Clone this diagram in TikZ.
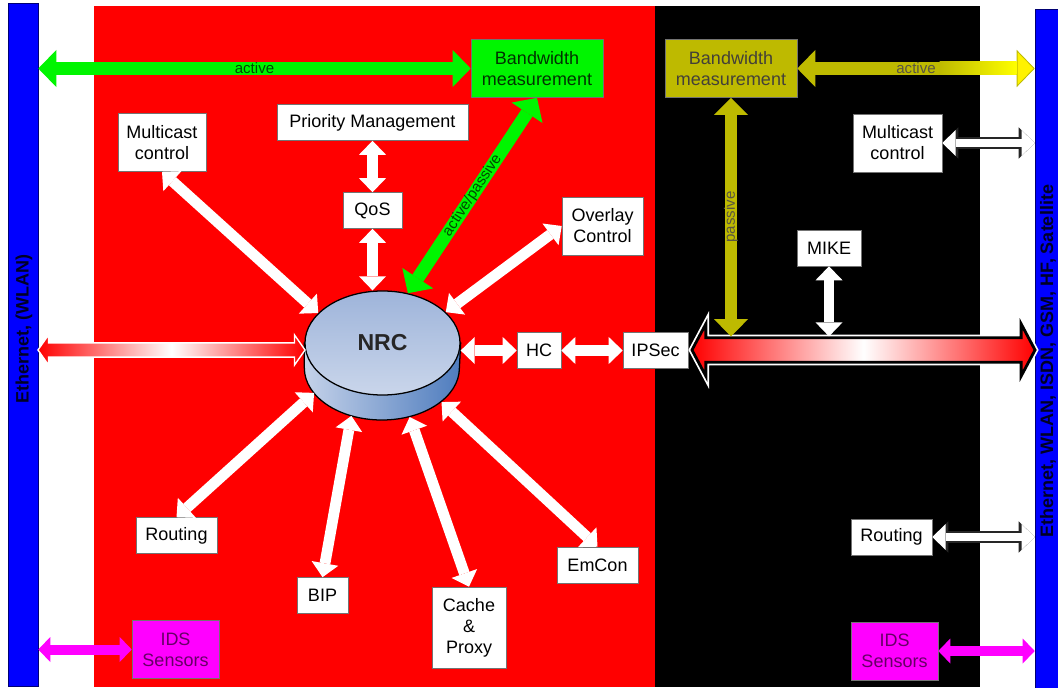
\documentclass[tikz,border=0pt]{standalone}
\usepackage{fontspec}
\setmainfont{Liberation Sans}
\usetikzlibrary{shapes.geometric, shapes.arrows, arrows.meta, calc, backgrounds}

\definecolor{panelred}{RGB}{255,0,0}
\definecolor{barblue}{RGB}{0,0,255}
\definecolor{bwgreen}{RGB}{0,245,0}
\definecolor{bwolive}{RGB}{190,186,0}
\definecolor{idsmagenta}{RGB}{255,0,255}
\definecolor{nrcface}{RGB}{158,180,218}
\definecolor{nrcside}{RGB}{78,124,190}

\begin{document}
\begin{tikzpicture}[
    x=0.025cm, y=-0.025cm,
    % Node styles
    box/.style={
        rectangle,
        draw=black!55,
        fill=white,
        minimum height=0.9cm,
        inner sep=2pt,
        font=\fontsize{12.8}{15}\selectfont,
        align=center
    },
    tall/.style={minimum height=1.45cm},
    greenbox/.style={box, tall, fill=bwgreen, text=green!20!black},
    olivebox/.style={box, tall, fill=bwolive, text=black!85!yellow},
    idsbox/.style={box, tall, fill=idsmagenta, text=idsmagenta!40!black},
    bar/.style={
        rectangle,
        draw=blue!45!black,
        fill=barblue,
        inner sep=0pt,
        minimum width=0.75cm
    },
    bartext/.style={
        rotate=90,
        font=\bfseries\fontsize{12.8}{15}\selectfont,
        text=black!85!blue
    },
    waylabel/.style={font=\fontsize{10.7}{12}\selectfont},
    pipe/.style={
        double arrow,
        double arrow head indent=0pt,
        left color=panelred,
        right color=panelred,
        middle color=white
    },
    % Connector styles
    whiteway/.style={
        draw=white, line width=0.27cm,
        {Triangle[width=0.675cm, length=0.35cm, line width=0pt]}-{Triangle[width=0.675cm, length=0.35cm, line width=0pt]}
    },
    edgeway/.style={
        draw=black!85, line width=0.28cm,
        {Triangle[width=0.78cm, length=0.4cm, line width=0pt]}-{Triangle[width=0.78cm, length=0.4cm, line width=0pt]}
    },
    openway/.style={
        draw=white, line width=0.19cm,
        {Triangle[width=0.64cm, length=0.33cm, line width=0pt]}-{Triangle[width=0.64cm, length=0.33cm, line width=0pt]}
    },
    greenway/.style={
        draw=bwgreen, line width=0.325cm,
        {Triangle[width=0.925cm, length=0.45cm, line width=0pt]}-{Triangle[width=0.925cm, length=0.45cm, line width=0pt]}
    },
    oliveway/.style={
        draw=bwolive, line width=0.3cm,
        {Triangle[width=0.85cm, length=0.43cm, line width=0pt]}-{Triangle[width=0.85cm, length=0.43cm, line width=0pt]}
    },
    sunway/.style={
        draw=bwolive, line width=0.325cm,
        {Triangle[width=0.925cm, length=0.45cm, line width=0pt]}-{Triangle[width=0.925cm, length=0.45cm, line width=0.6pt, fill=yellow]}
    },
    pinkway/.style={
        draw=idsmagenta, line width=0.25cm,
        {Triangle[width=0.625cm, length=0.3cm, line width=0pt]}-{Triangle[width=0.625cm, length=0.3cm, line width=0pt]}
    }
]
\useasboundingbox (0,0) rectangle (1058,688);

% === Panels ===
\begin{scope}[on background layer]
    \fill[white] (0,0) rectangle (1058,688);
    \fill[panelred] (94,6) rectangle (655,687);
    \fill[black] (655,6) rectangle (980,687);
\end{scope}

% === Network bars ===
\node[bar, minimum height=17.075cm] (lanbar) at (23,344.5) {};
\node[bar, minimum height=16.975cm] (wanbar) at (1050,348.5) {};
\node[bartext] (lanlabel) at (24,329) {Ethernet, (WLAN)};
\node[bartext] (wanlabel) at (1048,361) {Ethernet, WLAN, ISDN, GSM, HF, Satellite};

% === Red side ===
\node[greenbox, minimum width=3.3cm] (bwgreen) at (537,68.5) {Bandwidth\\measurement};
\node[box, minimum width=4.775cm] (prio) at (372.5,122.5) {Priority Management};
\node[box, minimum width=1.475cm] (qos) at (372.5,210.5) {QoS};
\node[box, tall, minimum width=2.2cm] (mcastl) at (162,142.5) {Multicast\\control};
\node[box, tall, minimum width=2.025cm] (overlay) at (602.5,226) {Overlay\\Control};
\node[box, minimum width=1.1cm] (hc) at (539,350.5) {HC};
\node[box, minimum width=1.625cm] (ipsec) at (655.5,350.5) {IPSec};
\node[box, minimum width=2.025cm] (routingl) at (176.5,535.5) {Routing};
\node[box, minimum width=1.275cm] (bip) at (322.5,595.5) {BIP};
\node[box, minimum width=1.85cm, minimum height=2.025cm] (cache) at (469,627.5) {Cache\\\&\\Proxy};
\node[box, minimum width=2.025cm] (emcon) at (597.5,565) {EmCon};
\node[idsbox, minimum width=2.175cm] (idsl) at (175.5,649.5) {IDS\\Sensors};

% NRC disc
\node[ellipse, draw=black, line width=0.9pt, minimum width=3.875cm, minimum height=2.6cm,
    inner sep=0pt, top color=nrcface, bottom color=nrcface!55!white,
    font=\bfseries\fontsize{16.4}{18}\selectfont, text=black!85] (nrc) at (382.5,343) {NRC};
\node[ellipse, minimum width=3.875cm, minimum height=2.6cm, inner sep=0pt] (nrcbase) at (382.5,368) {};
\begin{scope}[on background layer]
    \draw[line width=0.9pt, left color=nrcface!60!white, right color=nrcside]
        (nrc.west) -- ($(nrc.west)+(0,25)$)
        arc[start angle=180, end angle=360, x radius=1.9375cm, y radius=1.3cm]
        -- (nrc.east) -- cycle;
\end{scope}

% === Black side ===
\node[olivebox, minimum width=3.3cm] (bwolive) at (731,68.5) {Bandwidth\\measurement};
\node[box, tall, minimum width=2.225cm] (mcastr) at (897.5,143) {Multicast\\control};
\node[box, minimum width=1.6cm] (mike) at (829,248) {MIKE};
\node[box, minimum width=2.025cm] (routingr) at (891.5,537) {Routing};
\node[idsbox, minimum width=2.175cm] (idsr) at (894.5,651) {IDS\\Sensors};

% === Data pipes ===
\node[pipe, draw=white, line width=1pt, minimum height=6.675cm, inner sep=0.16cm,
    double arrow head extend=0.2cm, double arrow tip angle=110] (lanpipe) at (171.5,350) {};
\node[pipe, draw=black, line width=2pt, preaction={draw=white, line width=4.5pt},
    minimum height=8.575cm, inner sep=0.27cm,
    double arrow head extend=0.35cm, double arrow tip angle=124] (wanpipe) at (863.5,350) {};

% === Arrows round the NRC ===
\draw[whiteway] (mcastl.south) -- (nrc.155);
\draw[whiteway] (prio.south) -- (qos.north);
\draw[whiteway] (qos.south) -- (qos.south |- nrc.north);
\draw[whiteway] (overlay.west) -- (nrc.26);
\draw[whiteway] (routingl.north) -- (nrcbase.200);
\draw[whiteway] (bip.north) -- (nrcbase.237);
\draw[whiteway] (cache.north) -- (nrcbase.299);
\draw[whiteway] (emcon.north) -- (nrcbase.330);
\draw[whiteway] (nrc.east |- hc.west) -- (hc.west);
\draw[whiteway] (hc.east) -- (ipsec.west);

% === Bandwidth measurement ===
\draw[greenway] (lanbar.east |- bwgreen.west) -- (bwgreen.west)
    node[waylabel, midway, text=green!30!black] {active};
\draw[greenway] (nrc.63) -- (bwgreen.south)
    node[waylabel, midway, sloped, text=green!30!black] {active/passive};
\draw[sunway] (bwolive.east) -- (bwolive.east -| wanbar.west)
    node[waylabel, midway, text=black!75!yellow] {active};
\shade[left color=bwolive, right color=yellow]
    ($(bwolive.east -| wanbar.west)+(-95,-6.5)$) rectangle ($(bwolive.east -| wanbar.west)+(-18,6.5)$);
\draw[oliveway] (bwolive.south |- wanpipe.north) -- (bwolive.south)
    node[waylabel, midway, sloped, text=black!75!yellow] {passive};
\draw[whiteway] (mike.south) -- (mike.south |- wanpipe.north);

% === Arrows to the bars ===
\draw[edgeway] (mcastr.east) -- (mcastr.east -| wanbar.west);
\draw[openway] (mcastr.east) -- (mcastr.east -| wanbar.west);
\draw[edgeway] (routingr.east) -- (routingr.east -| wanbar.west);
\draw[openway] (routingr.east) -- (routingr.east -| wanbar.west);
\draw[pinkway] (lanbar.east |- idsl.west) -- (idsl.west);
\draw[pinkway] (idsr.east) -- (idsr.east -| wanbar.west);

\end{tikzpicture}
\end{document}
